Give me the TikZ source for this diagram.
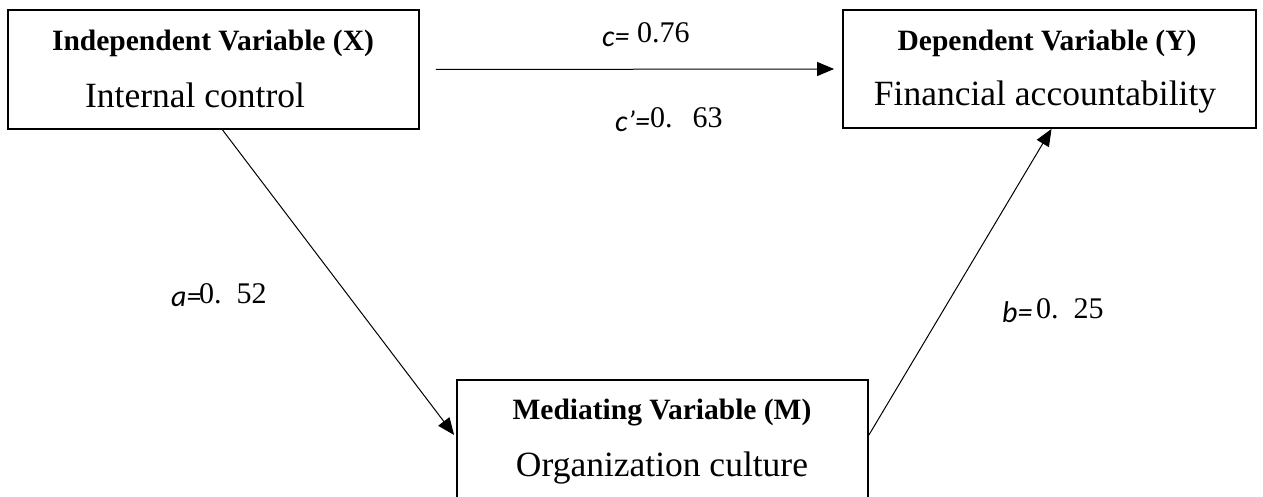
\documentclass[tikz,border=0pt]{standalone}
\usepackage{fontspec}
\setmainfont{Liberation Serif}
\newfontfamily\labfont{Carlito}
\usetikzlibrary{arrows.meta,calc}
\begin{document}
\begin{tikzpicture}[x=1pt,y=-1pt,
  varbox/.style={draw=black,line width=1.8pt,inner sep=0pt},
  ttl/.style={anchor=base,inner sep=0pt,font=\fontsize{29.5}{31}\selectfont\bfseries},
  sub/.style={anchor=base,inner sep=0pt,font=\fontsize{35.5}{37}\selectfont},
  num/.style={anchor=base west,inner sep=0pt,font=\fontsize{30}{32}\selectfont},
  let/.style={anchor=base west,inner sep=0pt,font=\fontsize{30}{32}\selectfont\labfont\itshape},
  conn/.style={line width=1pt,-{Triangle[length=17pt,width=14pt]}}]
\useasboundingbox (0,0) rectangle (1263,497);
\fill[white] (0,0) rectangle (1263,497);
% boxes
\node[varbox,minimum width=411pt,minimum height=119pt] (X) at (213.5,69.5) {};
\node[varbox,minimum width=413pt,minimum height=118pt] (Y) at (1049.5,69) {};
\node[varbox,minimum width=411pt,minimum height=150pt,anchor=north] (M) at (662.5,379) {};
% box texts
\node[ttl] (Xt) at (213,51) {Independent Variable (X)};
\node[sub] (Xs) at (195,108) {Internal control};
\node[ttl] (Yt) at (1047,51) {Dependent Variable (Y)};
\node[sub] (Ys) at (1045,106) {Financial accountability};
\node[ttl] (Mt) at (662,419) {Mediating Variable (M)};
\node[sub] (Ms) at (662,476) {Organization culture};
% connectors
\draw[conn] ($(X.east)+(16,0)$) -- ($(Y.west)+(-8,0)$);
\draw[conn] ($(X.south)+(9,0)$) -- ($(M.north west)+(-2,56)$);
\draw[conn] ($(M.north east)+(0,56)$) -- ($(Y.south)+(2,0)$);
% labels
\node[let] (cl) at (602,47) {c=};
\node[num] (cn) at (637,43) {0.76};
\node[let] (cpl) at (615,132) {c’=};
\node[num] (cpn) at (650,128) {0.\hspace{20pt}63};
\node[let] (al) at (171,306) {a=};
\node[num] (an) at (199,303) {0.\hspace{15pt}52};
\node[let] (bl) at (1002,322) {b=};
\node[num] (bn) at (1036,318) {0.\hspace{15pt}25};
\end{tikzpicture}
\end{document}
